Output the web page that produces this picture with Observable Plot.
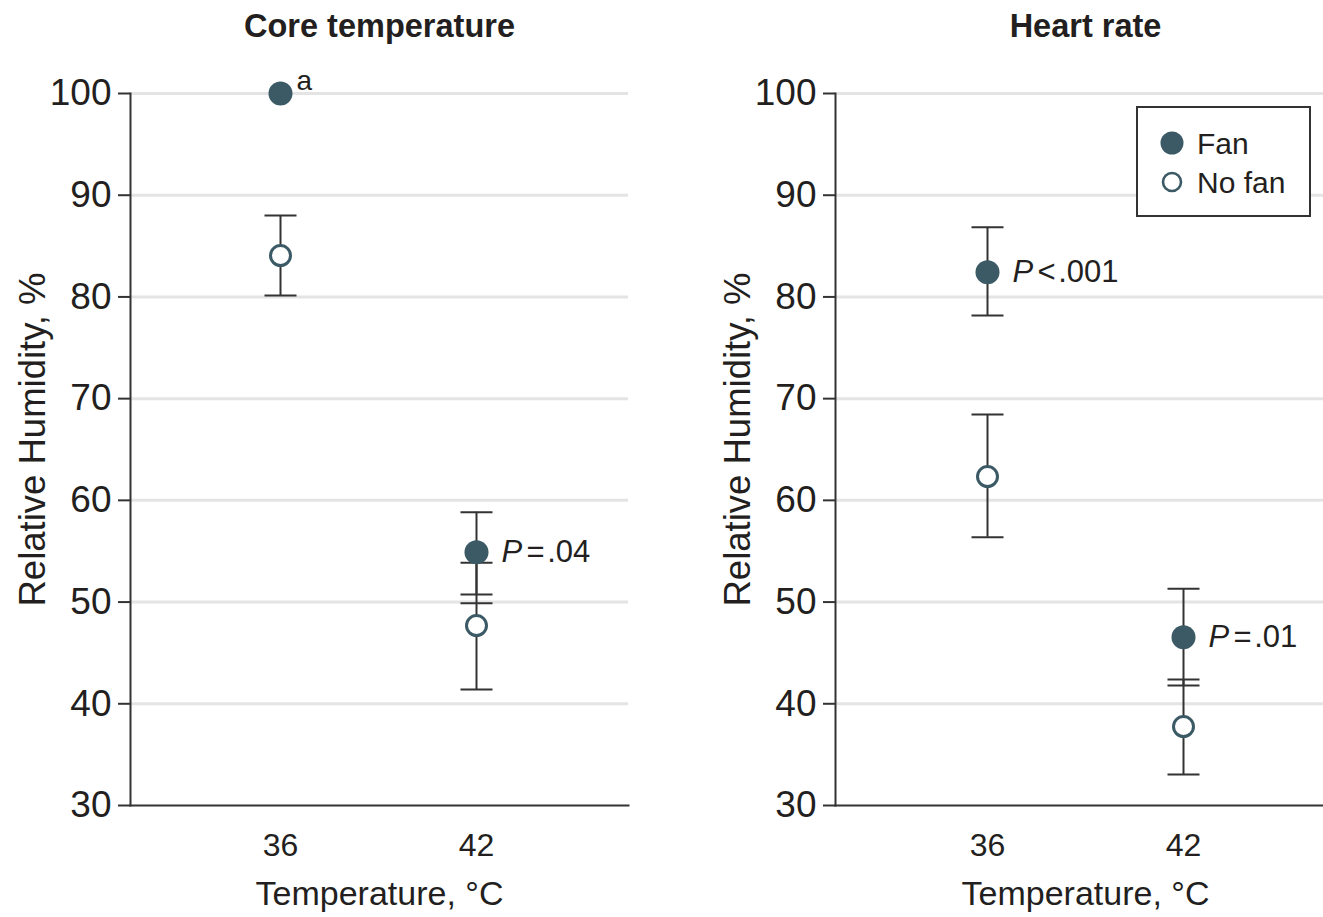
<!DOCTYPE html>
<html>
<head>
<meta charset="utf-8">
<script src="https://cdn.jsdelivr.net/npm/d3@7"></script>
<script src="https://cdn.jsdelivr.net/npm/@observablehq/plot@0.6"></script>
<style>
  html, body { margin: 0; padding: 0; background: #fff; overflow: hidden; }
  #wrap { position: relative; width: 1323px; height: 917px; overflow: hidden; }
  .panel { position: absolute; top: 0; }
  .panel svg { max-width: none !important; display: block; }
  #legend { position: absolute; left: 1136px; top: 106px; width: 175px; height: 111px;
            box-sizing: border-box; border: 2px solid #333; background: #fff; }
</style>
</head>
<body>
<div id="wrap">
  <div id="p1" class="panel" style="left:0px;width:660px"></div>
  <div id="p2" class="panel" style="left:700px;width:635px"></div>
  <div id="legend"></div>
</div>
<script>
// ---------- data ----------
const panelTitles = ["Core temperature", "Heart rate"];
const temps = ["36", "42"];
const groups = ["Fan", "No fan"];
const yTicks = [30, 40, 50, 60, 70, 80, 90, 100];
const gridTicks = [40, 50, 60, 70, 80, 90, 100];
const yLabel = "Relative Humidity, %";
const xLabel = "Temperature, °C";

// Core temperature
const coreFan = [100, 54.9];
const coreFanLow = [null, 50.74];
const coreFanHigh = [null, 58.83];
const coreNoFan = [84.07, 47.69];
const coreNoFanLow = [80.14, 41.4];
const coreNoFanHigh = [88.0, 53.86];
const coreExtraCaps = [null, 49.89];
const coreP = [null, "=\u200A.04"];
const coreNote = ["a", null];

// Heart rate
const hrFan = [82.43, 46.54];
const hrFanLow = [78.17, 41.8];
const hrFanHigh = [86.85, 51.3];
const hrNoFan = [62.34, 37.76];
const hrNoFanLow = [56.38, 33.05];
const hrNoFanHigh = [68.44, 42.39];
const hrExtraCaps = [null, null];
const hrP = ["<\u200A.001", "=\u200A.01"];
const hrNote = [null, null];

// ---------- style ----------
const FONT = '"Liberation Sans", Arial, sans-serif';
const TEXT = "#231f20";
const TEAL = "#3b5a65";
const AXIS = "#333333";

function rowsFor(fan, fanLow, fanHigh, noFan, noFanLow, noFanHigh) {
  const rows = [];
  temps.forEach((t, i) => {
    rows.push({temp: t, group: groups[0], mean: fan[i], low: fanLow[i], high: fanHigh[i]});
    rows.push({temp: t, group: groups[1], mean: noFan[i], low: noFanLow[i], high: noFanHigh[i]});
  });
  return rows;
}

const capSymbol = {
  draw(context, size) {
    const w = Math.sqrt(size / Math.PI);
    context.moveTo(-w, 0);
    context.lineTo(w, 0);
  }
};

function makePanel(cfg) {
  const rows = cfg.rows;
  const bars = rows.filter(d => d.low != null);
  const caps = [];
  bars.forEach(d => { caps.push({temp: d.temp, v: d.low}); caps.push({temp: d.temp, v: d.high}); });
  temps.forEach((t, i) => { if (cfg.extraCaps[i] != null) caps.push({temp: t, v: cfg.extraCaps[i]}); });
  const fanRows = rows.filter(d => d.group === groups[0]);
  const pRows = temps.map((t, i) => ({temp: t, y: fanRows[i].mean, p: cfg.p[i]})).filter(d => d.p != null);
  const noteRows = temps.map((t, i) => ({temp: t, y: fanRows[i].mean, n: cfg.note[i]})).filter(d => d.n != null);

  return Plot.plot({
    width: cfg.width,
    height: 917,
    marginTop: 93,
    marginBottom: 112,
    marginLeft: cfg.marginLeft,
    marginRight: cfg.marginRight,
    style: {fontFamily: FONT, color: TEXT, background: "transparent", overflow: "visible"},
    x: {type: "point", domain: temps, range: cfg.xRange, padding: 0},
    y: {domain: [30, 100]},
    marks: [
      Plot.ruleY(gridTicks, {stroke: "#e4e4e4", strokeWidth: 3}),
      Plot.frame({anchor: "left", stroke: AXIS, strokeWidth: 2}),
      Plot.frame({anchor: "bottom", stroke: AXIS, strokeWidth: 2}),
      Plot.axisY({ticks: yTicks, tickSize: 12, tickPadding: 7, fontSize: 37, label: null,
                  stroke: AXIS, strokeWidth: 2, fill: TEXT}),
      Plot.axisX({tickSize: 0, tickPadding: 28, fontSize: 32, label: null, fill: TEXT}),
      Plot.text([yLabel], {text: d => d, frameAnchor: "left", textAnchor: "middle", rotate: -90,
                           dx: -97, dy: -10, fontSize: 36.5, fill: TEXT}),
      Plot.text([xLabel], {text: d => d, frameAnchor: "bottom", textAnchor: "middle", dy: 99,
                           fontSize: 34, fill: TEXT}),
      Plot.text([cfg.title], {text: d => d, frameAnchor: "top", textAnchor: "middle", dy: -80,
                              fontSize: 32.5, fontWeight: "bold", fill: TEXT}),
      Plot.ruleX(bars, {x: "temp", y1: "low", y2: "high", stroke: AXIS, strokeWidth: 2}),
      Plot.dot(caps, {x: "temp", y: "v", symbol: capSymbol, r: 16, fill: "none", stroke: AXIS, strokeWidth: 2}),
      Plot.dot(fanRows, {x: "temp", y: "mean", r: 12, fill: TEAL, stroke: "none"}),
      Plot.dot(rows.filter(d => d.group === groups[1]), {x: "temp", y: "mean", r: 10, fill: "white",
               stroke: TEAL, strokeWidth: 3}),
      Plot.text(pRows, {x: "temp", y: "y", text: () => "P", dx: 25, textAnchor: "start",
                        fontStyle: "italic", fontSize: 31, fill: TEXT}),
      Plot.text(pRows, {x: "temp", y: "y", text: "p", dx: 50, textAnchor: "start",
                        fontSize: 31, fill: TEXT}),
      Plot.text(noteRows, {x: "temp", y: "y", text: "n", dx: 16, dy: -12, textAnchor: "start",
                           fontSize: 28, fill: TEXT})
    ]
  });
}

document.getElementById("p1").append(makePanel({
  title: panelTitles[0], width: 660, marginLeft: 130, marginRight: 32, xRange: [280, 476],
  rows: rowsFor(coreFan, coreFanLow, coreFanHigh, coreNoFan, coreNoFanLow, coreNoFanHigh),
  extraCaps: coreExtraCaps, p: coreP, note: coreNote
}));
document.getElementById("p2").append(makePanel({
  title: panelTitles[1], width: 635, marginLeft: 135, marginRight: 0, xRange: [287, 483],
  rows: rowsFor(hrFan, hrFanLow, hrFanHigh, hrNoFan, hrNoFanLow, hrNoFanHigh),
  extraCaps: hrExtraCaps, p: hrP, note: hrNote
}));

// legend
const lg = d3.select("#legend").append("svg").attr("width", 171).attr("height", 107)
  .style("display", "block").style("font-family", FONT);
groups.forEach((g, i) => {
  const cy = 35 + i * 39;
  const c = lg.append("circle").attr("cx", 34).attr("cy", cy);
  if (i === 0) c.attr("r", 11.5).attr("fill", TEAL);
  else c.attr("r", 9).attr("fill", "white").attr("stroke", TEAL).attr("stroke-width", 2.6);
  lg.append("text").attr("x", 59).attr("y", cy).attr("dy", "0.35em")
    .attr("font-size", 30).attr("fill", TEXT).text(g);
});
</script>
</body>
</html>
